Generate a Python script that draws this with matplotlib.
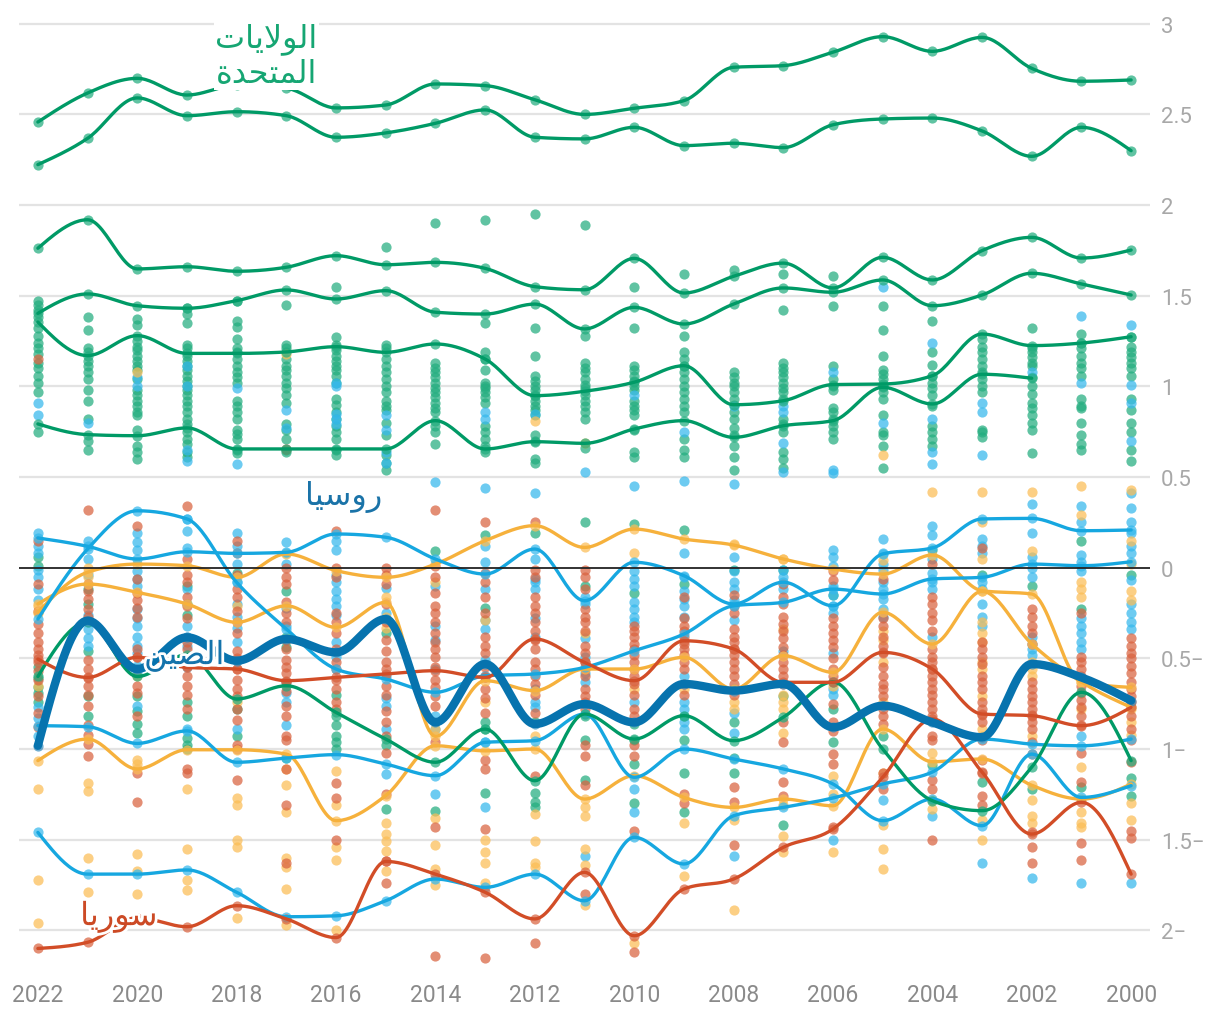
import numpy as np
import matplotlib
matplotlib.use("Agg")
import matplotlib.pyplot as plt
import matplotlib.patheffects as pe

years = list(range(2022, 1999, -1))
nan = float("nan")

# highlighted countries (2022 -> 2000)
us = [2.458, 2.618, 2.699, 2.607, 2.66, 2.644, 2.536, 2.552, 2.668, 2.659, 2.581, 2.50,
      2.534, 2.576, 2.76, 2.769, 2.843, 2.929, 2.848, 2.925, 2.754, 2.683, 2.69]
green2 = [2.223, 2.368, 2.591, 2.493, 2.515, 2.493, 2.374, 2.398, 2.451, 2.525, 2.374, 2.365,
          2.429, 2.328, 2.341, 2.317, 2.443, 2.475, 2.48, 2.409, 2.269, 2.429, 2.30]
green3 = [1.762, 1.919, 1.648, 1.66, 1.635, 1.657, 1.721, 1.671, 1.684, 1.651, 1.55, 1.533,
          1.706, 1.515, 1.607, 1.68, 1.543, 1.712, 1.587, 1.749, 1.822, 1.708, 1.752]
green4 = [1.403, 1.51, 1.445, 1.431, 1.473, 1.532, 1.482, 1.528, 1.409, 1.399, 1.454, 1.317,
          1.436, 1.344, 1.454, 1.543, 1.519, 1.587, 1.445, 1.504, 1.624, 1.565, 1.504]
green5 = [1.355, 1.17, 1.28, 1.182, 1.182, 1.19, 1.219, 1.188, 1.234, 1.151, 0.949, 0.973,
          1.023, 1.114, 0.899, 0.921, 1.01, 1.013, 1.059, 1.289, 1.225, 1.239, 1.274]
green6 = [0.793, 0.734, 0.728, 0.771, 0.655, 0.655, 0.655, 0.655, 0.811, 0.655, 0.695, 0.686,
          0.765, 0.811, 0.719, 0.783, 0.811, 0.995, 0.903, 1.067, 1.045, nan, nan]
green7 = [-0.6, -0.3, -0.6, -0.48, -0.724, -0.651, -0.798, -0.945, -1.073, -0.89, -1.175, -0.807,
          -0.945, -0.816, -0.954, -0.825, -0.63, -1.0, -1.285, -1.34, -1.1, -0.687, -1.064]
china = [-0.982, -0.292, -0.559, -0.384, -0.513, -0.393, -0.467, -0.283, -0.853, -0.531, -0.862,
         -0.752, -0.853, -0.641, -0.678, -0.641, -0.88, -0.761, -0.853, -0.935, -0.531, -0.605, -0.733]
blue1 = [0.164, 0.118, 0.048, 0.088, 0.079, 0.085, 0.186, 0.168, 0.048, -0.035, 0.103, -0.182,
         0.03, -0.044, -0.2, -0.08, -0.21, 0.076, 0.109, 0.269, 0.272, 0.204, 0.208]
russia = [-0.283, 0.103, 0.314, 0.269, -0.081, -0.338, -0.559, -0.614, -0.687, -0.596, -0.586,
          -0.55, -0.458, -0.366, -0.21, -0.191, -0.118, -0.145, -0.062, -0.053, 0.02, 0.011, 0.033]
blue3 = [-0.871, -0.877, -0.969, -0.9, -1.073, -1.05, -1.031, -1.083, -1.147, -0.963, -0.954,
         -0.807, -1.156, -1.0, -1.055, -1.11, -1.193, -1.395, -1.276, -1.423, -1.028, -1.267, -1.202]
blue4 = [-1.46, -1.69, -1.69, -1.667, -1.79, -1.925, -1.92, -1.837, -1.717, -1.763, -1.69, -1.837,
         -1.487, -1.634, -1.368, -1.322, -1.27, -1.193, -1.127, -0.945, -0.973, -0.982, -0.945]
syria = [-2.1, -2.066, -1.93, -1.98, -1.864, -1.937, -2.04, -1.62, -1.69, -1.79, -1.937, -1.68,
         -2.03, -1.772, -1.717, -1.542, -1.441, -1.156, -0.834, -1.127, -1.469, -1.294, -1.69]
red2 = [-0.504, -0.605, -0.494, -0.55, -0.559, -0.623, -0.605, -0.586, -0.568, -0.605, -0.393,
        -0.522, -0.623, -0.403, -0.448, -0.632, -0.632, -0.467, -0.559, -0.807, -0.816, -0.871, -0.77]
orange1 = [-0.246, -0.025, 0.02, 0.011, -0.053, 0.076, -0.016, -0.053, 0.02, 0.149, 0.232, 0.112,
           0.213, 0.158, 0.125, 0.048, -0.007, -0.035, 0.07, -0.127, -0.145, -0.63, -0.66]
orange2 = [-0.2, -0.09, -0.136, -0.2, -0.301, -0.21, -0.329, -0.191, -0.93, -0.623, -0.678, -0.559,
           -0.559, -0.494, -0.669, -0.485, -0.577, -0.246, -0.421, -0.13, -0.42, -0.63, -0.77]
orange3 = [-1.064, -0.945, -1.11, -1.004, -1.004, -1.028, -1.395, -1.257, -0.982, -1.01, -1.0, -1.276,
           -1.147, -1.267, -1.322, -1.276, -1.313, -0.89, -1.07, -1.055, -1.2, -1.276, -1.193]

# all other countries, one list per year (2022 -> 2000)
green_dots = [
    [1.47, 1.45, 1.42, 1.38, 1.32, 1.28, 1.24, 1.21, 1.18, 1.13, 1.10, 1.06, 1.02, 0.97, 0.75, 0.06, 0.01, -0.55, -0.61, -0.66, -0.69, -0.74],
    [1.38, 1.31, 1.21, 1.19, 1.14, 1.11, 1.08, 1.04, 0.98, 0.92, 0.82, 0.70, 0.65, -0.12, -0.20, -0.46, -0.71, -0.82],
    [1.37, 1.34, 1.25, 1.22, 1.20, 1.17, 1.14, 1.11, 1.09, 1.04, 0.98, 0.95, 0.92, 0.89, 0.86, 0.84, 0.76, 0.67, 0.64, 0.60, -0.71, -0.79, -0.86, -0.91],
    [1.43, 1.40, 1.35, 1.23, 1.21, 1.17, 1.14, 1.11, 1.09, 1.06, 1.03, 1.0, 0.98, 0.95, 0.92, 0.89, 0.86, 0.82, 0.79, 0.75, 0.71, 0.68, 0.64, 0.61, -0.10, -0.20, -0.26, -0.74, -0.82, -0.94, -0.98, -1.0],
    [1.47, 1.36, 1.33, 1.26, 1.21, 1.19, 1.15, 1.11, 1.08, 1.05, 1.02, 0.92, 0.89, 0.86, 0.82, 0.76, 0.74, 0.71, 0.65, 0.63, -0.03, -0.78, -0.93],
    [1.45, 1.23, 1.21, 1.15, 1.11, 1.09, 1.06, 1.02, 0.99, 0.95, 0.91, 0.79, 0.76, 0.71, 0.65, 0.64, -0.13, -0.38, -0.44, -1.05],
    [1.55, 1.27, 1.23, 1.20, 1.17, 1.14, 1.11, 1.09, 1.06, 1.02, 0.93, 0.90, 0.86, 0.82, 0.78, 0.75, 0.71, 0.65, 0.62, -0.70, -0.82, -0.87, -0.93, -0.96, -1.0],
    [1.77, 1.23, 1.21, 1.15, 1.11, 1.08, 1.04, 1.0, 0.97, 0.92, 0.89, 0.87, 0.80, 0.73, 0.62, 0.58, 0.54, -0.36, -0.98, -1.33],
    [1.90, 1.13, 1.10, 1.08, 1.05, 1.02, 0.99, 0.97, 0.94, 0.91, 0.88, 0.86, 0.78, 0.75, 0.68, 0.09, -1.34],
    [1.92, 1.35, 1.19, 1.15, 1.09, 1.02, 1.0, 0.99, 0.97, 0.94, 0.91, 0.78, 0.75, 0.71, 0.67, 0.64, 0.18, -0.22, -0.85, -0.89, -1.24],
    [1.95, 1.32, 1.17, 1.06, 1.03, 1.0, 0.98, 0.95, 0.92, 0.89, 0.87, 0.84, 0.73, 0.70, 0.60, 0.58, 0.19, -0.85, -1.24, -1.29, -1.32],
    [1.89, 1.28, 1.13, 1.10, 1.08, 1.04, 1.01, 0.99, 0.95, 0.92, 0.89, 0.86, 0.82, 0.66, 0.25, -0.10, -0.82, -0.95, -1.17],
    [1.55, 1.32, 1.11, 1.09, 1.06, 1.03, 1.0, 0.98, 0.92, 0.89, 0.87, 0.84, 0.76, 0.64, 0.61, 0.24, -0.14, -0.86, -0.95, -1.08, -1.30],
    [1.62, 1.28, 1.19, 1.15, 1.11, 1.08, 1.04, 1.0, 0.97, 0.93, 0.89, 0.86, 0.71, 0.65, 0.61, 0.21, -0.09, -0.82, -0.95, -1.13, -1.35],
    [1.64, 1.08, 1.05, 1.02, 1.0, 0.97, 0.93, 0.86, 0.82, 0.77, 0.73, 0.67, 0.61, 0.54, -0.01, -0.85, -1.05, -1.13],
    [1.62, 1.42, 1.13, 1.10, 1.08, 1.05, 1.02, 0.99, 0.97, 0.93, 0.82, 0.79, 0.75, 0.64, 0.60, 0.55, -0.01, -0.71, -1.42],
    [1.61, 1.445, 1.11, 1.04, 1.0, 0.98, 0.88, 0.86, 0.82, 0.78, 0.75, 0.71, -0.15, -0.78, -0.96],
    [1.445, 1.31, 1.17, 1.09, 1.07, 1.04, 1.0, 0.97, 0.93, 0.84, 0.75, 0.73, 0.67, 0.55, -0.93],
    [1.36, 1.19, 1.12, 1.06, 1.02, 0.99, 0.95, 0.89, 0.78, 0.75, 0.71, 0.67, 0.10, -1.09],
    [1.26, 1.22, 1.19, 1.15, 1.11, 1.08, 1.04, 1.0, 0.97, 0.76, 0.75, 0.72, -0.04, -1.18],
    [1.32, 1.21, 1.19, 1.16, 1.13, 1.11, 1.05, 1.0, 0.96, 0.91, 0.88, 0.84, 0.80, 0.76, 0.63, -0.10, -1.22],
    [1.29, 1.24, 1.21, 1.17, 1.13, 1.10, 1.06, 0.93, 0.89, 0.88, 0.80, 0.73, 0.68, 0.65, 0.15, -0.23, -1.21],
    [1.27, 1.22, 1.19, 1.16, 1.13, 1.10, 1.06, 0.93, 0.87, 0.80, 0.75, 0.65, 0.59, -0.04, -1.16, -1.26],
]
blue_dots = [
    [0.91, 0.84, 0.19, 0.12, 0.08, -0.01, -0.05, -0.12, -0.18, -0.77, -0.83, -0.93],
    [0.80, 0.15, 0.05, -0.04, -0.26, -0.30, -0.34, -0.39, -0.43],
    [1.05, 1.0, 0.19, 0.14, 0.10, -0.02, -0.06, -0.10, -0.23, -0.28, -0.32, -0.38, -0.43, -0.47, -0.54, -0.58, -0.76],
    [1.11, 1.0, 0.65, 0.59, 0.27, 0.20, 0.11, -0.12, -0.32, -0.38, -0.43, -0.49, -0.55, -0.89],
    [0.99, 0.57, 0.19, 0.12, 0.02, -0.08, -0.20, -0.27, -0.33, -0.41, -0.51, -0.89],
    [0.87, 0.77, 0.14, 0.08, 0.02, -0.22, -0.32, -0.63, -0.69, -0.74, -0.87],
    [1.02, 1.0, 0.85, 0.82, 0.79, 0.15, 0.10, -0.04, -0.08, -0.13, -0.17, -0.21, -0.26, -0.41, -0.49],
    [0.84, 0.76, 0.64, 0.58, -0.11, -0.25, -0.60, -0.72, -0.76, -0.89, -1.14],
    [0.47, -0.10, -0.32, -0.40, -0.56, -0.82, -0.89, -1.25],
    [0.86, 0.82, 0.44, 0.12, 0.03, -0.12, -0.29, -0.34, -0.51, -0.96, -1.32],
    [0.85, 0.41, 0.05, -0.06, -0.08, -0.12, -0.28, -0.38, -0.67, -0.74, -0.77],
    [0.53, -0.16, -0.20, -0.39, -0.49, -0.58, -0.63, -1.59],
    [0.95, 0.45, -0.02, -0.06, -0.10, -0.19, -0.23, -0.27, -0.30, -0.74, -1.22, -1.35],
    [0.75, 0.48, 0.08, -0.05, -0.13, -0.17, -0.21, -0.27, -0.60, -0.74, -0.78, -0.85, -0.89],
    [0.89, 0.46, 0.06, -0.02, -0.08, -0.12, -0.18, -0.29, -0.67, -0.80, -0.91, -1.59],
    [0.89, 0.86, 0.69, 0.53, -0.01, -0.05, -0.12, -0.46],
    [1.08, 0.54, 0.52, 0.10, 0.06, 0.01, -0.10, -0.15, -0.21, -0.25, -0.47, -0.67, -0.70, -1.50],
    [1.55, 0.80, 0.16, 0.08, 0.02, -0.01, -0.08, -0.12, -0.17, -0.23, -0.27, -1.28],
    [1.24, 0.82, 0.64, 0.57, 0.23, 0.18, 0.05, -0.03, -0.08, -0.12, -0.38, -1.37],
    [0.91, 0.86, 0.62, 0.16, 0.12, 0.08, -0.08, -0.12, -0.20, -0.27, -0.32, -1.63],
    [1.08, 0.35, 0.19, 0.06, 0.0, -0.05, -0.38, -0.42, -0.45, -0.48, -1.71],
    [1.39, 1.02, 0.34, 0.25, 0.07, 0.03, -0.02, -0.28, -0.32, -0.36, -0.41, -0.45, -0.93, -1.74],
    [1.34, 1.01, 0.91, 0.70, 0.41, 0.33, 0.25, 0.19, 0.12, 0.08, -0.07, -0.20, -0.25, -0.30, -0.34, -1.74],
]
orange_dots = [
    [-0.21, -0.25, -0.65, -1.22, -1.72, -1.96],
    [0.0, -0.05, -1.19, -1.23, -1.60, -1.79],
    [1.08, -0.60, -1.06, -1.08, -1.58, -1.67, -1.80],
    [-1.22, -1.55, -1.72, -1.78],
    [-0.21, -0.74, -1.27, -1.31, -1.50, -1.54, -1.93],
    [1.18, -1.11, -1.20, -1.35, -1.60, -1.65, -1.77, -1.97],
    [-1.12, -1.31, -1.54, -1.61, -2.0],
    [-0.16, -0.27, -0.33, -1.41, -1.47, -1.51, -1.56, -1.67],
    [-0.08, -0.89, -1.38, -1.53, -1.66, -1.75],
    [-0.29, -0.74, -1.50, -1.57, -1.63, -1.74],
    [0.81, -0.93, -1.36, -1.51, -1.63, -1.65],
    [0.69, -0.36, -1.32, -1.37, -1.55, -1.64, -1.86],
    [0.08, -0.67, -2.07],
    [-0.67, -1.41, -1.70],
    [0.13, -0.74, -0.78, -1.39, -1.89],
    [0.05, -0.34, -0.70, -0.74, -0.78, -0.91, -1.31, -1.48, -1.57],
    [-0.65, -1.15, -1.25, -1.57],
    [0.62, 0.04, -0.35, -0.40, -0.52, -0.74, -1.13, -1.42, -1.55, -1.66],
    [0.42, -1.02, -1.28, -1.33],
    [0.42, 0.25, 0.05, -0.30, -0.36, -0.41, -0.52, -0.56, -0.71, -0.89, -0.93, -1.39, -1.50],
    [0.42, 0.09, -0.52, -0.56, -0.60, -0.93, -1.28, -1.37, -1.41],
    [0.45, 0.29, -0.08, -0.12, -0.16, -0.78, -1.10, -1.35, -1.41, -1.43],
    [0.43, 0.15, 0.02, -0.13, -0.18, -0.78, -0.85, -0.92, -1.30, -1.39],
]
red_dots = [
    [1.15, 0.15, -0.09, -0.24, -0.31, -0.36, -0.41, -0.45, -0.48, -0.52, -0.57, -0.62, -0.71, -0.80, -0.88],
    [0.32, -0.09, -0.13, -0.17, -0.23, -0.27, -0.51, -0.56, -0.61, -0.65, -0.70, -0.76, -0.87, -0.92, -0.97, -1.04],
    [0.23, -0.06, -0.14, -0.18, -0.22, -0.27, -0.45, -0.49, -0.65, -0.69, -0.82, -1.13, -1.29],
    [0.34, 0.05, -0.04, -0.08, -0.16, -0.21, -0.28, -0.41, -0.45, -0.54, -0.60, -0.65, -0.70, -0.78, -1.11, -1.13],
    [0.15, 0.08, -0.04, -0.12, -0.16, -0.24, -0.30, -0.36, -0.46, -0.50, -0.56, -0.62, -0.67, -0.71, -0.78, -0.84, -0.98, -1.0, -1.17],
    [0.655, 0.0, -0.05, -0.09, -0.19, -0.25, -0.30, -0.40, -0.45, -0.51, -0.55, -0.58, -0.63, -0.68, -0.76, -0.82, -0.93, -0.95, -1.11, -1.31, -1.63],
    [0.2, 0.0, -0.05, -0.25, -0.30, -0.36, -0.45, -0.52, -0.56, -0.62, -0.67, -0.74, -0.78, -1.19, -1.27, -1.50],
    [0.0, -0.04, -0.09, -0.20, -0.30, -0.40, -0.46, -0.52, -0.56, -0.65, -0.70, -0.79, -0.85, -0.93, -1.02, -1.25, -1.62, -1.74],
    [0.32, 0.01, -0.05, -0.14, -0.21, -0.25, -0.30, -0.36, -0.41, -0.45, -0.49, -0.55, -0.62, -0.66, -0.71, -0.76, -0.96, -1.43, -2.14],
    [0.25, -0.03, -0.08, -0.16, -0.25, -0.38, -0.43, -0.47, -0.55, -0.60, -0.67, -0.72, -0.80, -1.06, -1.11, -1.44, -2.15],
    [0.25, -0.01, -0.05, -0.16, -0.21, -0.25, -0.30, -0.35, -0.40, -0.45, -0.52, -0.56, -0.60, -0.64, -0.70, -0.80, -1.15, -2.07],
    [-0.01, -0.05, -0.12, -0.23, -0.27, -0.30, -0.35, -0.43, -0.47, -0.52, -0.56, -0.60, -0.67, -0.71, -0.74, -0.78, -0.98, -1.04, -1.20, -1.80],
    [-0.32, -0.35, -0.38, -0.42, -0.45, -0.48, -0.52, -0.56, -0.60, -0.64, -0.70, -0.78, -0.82, -0.98, -1.04, -1.45, -2.12],
    [-0.16, -0.28, -0.32, -0.35, -0.38, -0.42, -0.45, -0.48, -0.52, -0.56, -0.64, -0.70, -1.25, -1.30],
    [-0.15, -0.21, -0.25, -0.34, -0.38, -0.41, -0.45, -0.48, -0.52, -0.56, -0.60, -0.64, -0.70, -1.21, -1.29, -1.53],
    [-0.09, -0.16, -0.20, -0.27, -0.31, -0.35, -0.39, -0.44, -0.48, -0.52, -0.56, -0.60, -0.64, -0.85, -0.96, -1.18, -1.26],
    [-0.02, -0.07, -0.28, -0.32, -0.36, -0.40, -0.44, -0.50, -0.56, -0.60, -0.75, -0.85, -0.90, -1.03, -1.08, -1.43],
    [-0.06, -0.28, -0.32, -0.38, -0.43, -0.47, -0.55, -0.60, -0.64, -0.67, -0.71, -0.78, -0.82, -0.86, -1.13, -1.22],
    [0.02, -0.16, -0.20, -0.25, -0.29, -0.35, -0.45, -0.49, -0.52, -0.56, -0.60, -0.63, -0.67, -0.70, -0.74, -0.78, -0.82, -0.93, -0.95, -1.17, -1.22, -1.50],
    [0.11, -0.41, -0.45, -0.49, -0.53, -0.60, -0.63, -0.67, -0.74, -0.78, -0.81, -0.85, -0.95, -1.06, -1.13, -1.26, -1.31],
    [-0.23, -0.27, -0.32, -0.36, -0.42, -0.63, -0.67, -0.71, -0.74, -0.78, -0.81, -0.85, -0.89, -0.96, -1.03, -1.46, -1.54, -1.63],
    [-0.25, -0.49, -0.52, -0.56, -0.60, -0.65, -0.69, -0.73, -0.77, -0.82, -0.87, -1.02, -1.18, -1.52, -1.61],
    [-0.39, -0.43, -0.47, -0.50, -0.54, -0.58, -0.63, -0.67, -0.71, -0.74, -0.82, -0.89, -0.95, -1.07, -1.45, -1.49],
]

GREEN, BLUE, ORANGE, RED, DARK = "#009a66", "#16a7e0", "#f6b13c", "#d24d27", "#0773ae"
DOT = {"g": "#23ad7f", "b": "#35b8ec", "o": "#fbbd55", "r": "#d9623f"}
DOT_SIZE = 54


def monotone(xs, ys, n=24):
    # d3 curveMonotoneX style smoothing
    xs = np.asarray(xs, float)
    ys = np.asarray(ys, float)
    h = np.diff(xs)
    s = np.diff(ys) / h
    m = np.zeros(len(xs))
    sg = lambda v: -1.0 if v < 0 else 1.0
    for i in range(1, len(xs) - 1):
        p = (s[i - 1] * h[i] + s[i] * h[i - 1]) / (h[i - 1] + h[i])
        m[i] = (sg(s[i - 1]) + sg(s[i])) * min(abs(s[i - 1]), abs(s[i]), 0.5 * abs(p))
    m[0] = (3 * s[0] - m[1]) / 2
    m[-1] = (3 * s[-1] - m[-2]) / 2
    px, py = [], []
    for i in range(len(xs) - 1):
        t = np.linspace(0, 1, n, endpoint=False)
        h00 = 2 * t**3 - 3 * t**2 + 1
        h10 = t**3 - 2 * t**2 + t
        h01 = -2 * t**3 + 3 * t**2
        h11 = t**3 - t**2
        px.extend(xs[i] + t * h[i])
        py.extend(h00 * ys[i] + h10 * h[i] * m[i] + h01 * ys[i + 1] + h11 * h[i] * m[i + 1])
    px.append(xs[-1])
    py.append(ys[-1])
    return np.array(px), np.array(py)


fig = plt.figure(figsize=(12.2, 10.2), dpi=100)
ax = fig.add_axes([19 / 1220, 52.4 / 1020, 1131 / 1220, 951.9 / 1020])
ax.set_xlim(2022.38, 1999.62)
ax.set_ylim(-2.2, 3.05)

yt = [-2, -1.5, -1, -0.5, 0, 0.5, 1, 1.5, 2, 2.5, 3]
for v in yt:
    if v == 0:
        ax.axhline(0, color="#222222", lw=1.3, zorder=5)
    else:
        ax.axhline(v, color="#e3e3e3", lw=1.6, zorder=0)

# background countries
for key, cols in [("g", green_dots), ("b", blue_dots), ("o", orange_dots), ("r", red_dots)]:
    xs = [yr for yr, col in zip(years, cols) for _ in col]
    vs = [v for col in cols for v in col]
    ax.scatter(xs, vs, s=DOT_SIZE, color=DOT[key], alpha=0.72, lw=0, zorder=2)

lines = [
    (us, GREEN, "g"), (green2, GREEN, "g"), (green3, GREEN, "g"),
    (green4, GREEN, "g"), (green5, GREEN, "g"), (green6, GREEN, "g"),
    (orange1, ORANGE, "o"), (orange2, ORANGE, "o"), (orange3, ORANGE, "o"),
    (blue1, BLUE, "b"), (russia, BLUE, "b"), (blue3, BLUE, "b"), (blue4, BLUE, "b"),
    (green7, GREEN, "g"), (red2, RED, "r"), (syria, RED, "r"),
]
for vals, col, key in lines:
    yr = np.array([y for y, v in zip(years, vals) if not np.isnan(v)], float)
    vv = np.array([v for v in vals if not np.isnan(v)], float)
    ax.scatter(yr, vv, s=DOT_SIZE, color=DOT[key], alpha=0.72, lw=0, zorder=2)
    cx, cy = monotone(2022 - yr, vv)
    ax.plot(2022 - cx, cy, color=col, lw=2.4, solid_capstyle="round", zorder=3)

cx, cy = monotone(2022 - np.array(years, float), china)
ax.scatter(years, china, s=DOT_SIZE, color="#3a8fbf", alpha=0.72, lw=0, zorder=2)
ax.plot(2022 - cx, cy, color=DARK, lw=6, solid_capstyle="round", zorder=4)

# labels (Arabic written in presentation forms, visual order)
lab = dict(family=["DejaVu Sans"], fontsize=23, zorder=6)
halo = [pe.withStroke(linewidth=4, foreground="white")]
ax.text(2016.37, 2.825, "\ufe95\ufe8e\ufef3\ufefb\ufeee\ufedf\ufe8d\n\ufe93\ufeaa\ufea4\ufe98\ufee4\ufedf\ufe8d",
        ha="right", va="center", multialignment="right", color="#16a673", linespacing=1.15,
        bbox=dict(facecolor="white", edgecolor="none", pad=1), **lab)
ax.text(2015.06, 0.395, "\ufe8e\ufef4\ufeb3\ufeed\ufead", ha="right", va="center", color="#1a73a8", **lab)
ax.text(2018.24, -0.487, "\ufee6\ufef4\ufebc\ufedf\ufe8d", ha="right", va="center", color="#1473ab",
        path_effects=halo, **lab)
ax.text(2019.59, -1.927, "\ufe8e\ufef3\ufead\ufeee\ufeb3", ha="right", va="center", color="#cc4a25",
        path_effects=halo, **lab)

ax.yaxis.tick_right()
ax.set_yticks(yt)
ax.set_yticklabels([f"{abs(v):g}\u2212" if v < 0 else f"{v:g}" for v in yt])
ax.set_xticks(list(range(2022, 1999, -2)))
ax.set_xticklabels([str(y) for y in range(2022, 1999, -2)])
ax.tick_params(axis="y", length=0, pad=8, labelsize=16, labelcolor="#a8a8a8")
ax.tick_params(axis="x", length=0, pad=12, labelsize=16.5, labelcolor="#8a8a8a")
for lbl in ax.get_xticklabels() + ax.get_yticklabels():
    lbl.set_fontfamily("Roboto")
for sp in ax.spines.values():
    sp.set_visible(False)

fig.savefig("out.png", dpi=100)
